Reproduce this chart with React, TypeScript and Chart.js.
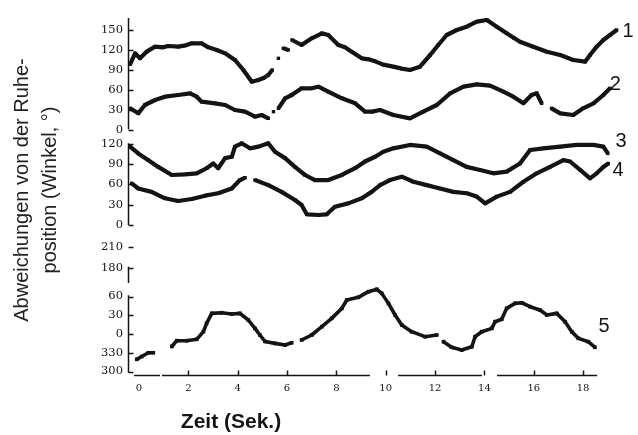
import React, { useEffect, useRef } from 'react';
import { Chart, registerables } from 'chart.js';

Chart.register(...registerables);

const INK = '#141414';

// Time in seconds
const S1_T = [-0.36, -0.16, 0.04, 0.31, 0.65, 0.95, 1.19, 1.59, 1.9, 2.14, 2.54, 2.81, 3.15, 3.49, 3.89, 4.23, 4.57, 4.84, 5.05, 5.24, 5.4, 5.5, 5.65, 5.75, 5.85, 6.05, 6.12, 6.2, 6.59, 7.0, 7.41, 7.67, 8.08, 8.35, 8.62, 9.03, 9.3, 9.57, 9.9, 10.31, 10.65, 10.98, 11.39, 11.8, 12.13, 12.47, 12.88, 13.28, 13.69, 14.1, 14.5, 14.9, 15.2, 15.44, 15.98, 16.53, 17.07, 17.6, 18.08, 18.28, 18.55, 18.82, 19.09, 19.36];
const S1_V = [98.5, 115, 107.5, 117.5, 125, 124, 126, 125, 127, 130, 130, 124, 120, 115, 105, 90, 72.5, 75, 78, 82.5, 90, null, 107.5, null, 122.5, 120, null, 135, 127.5, 137.5, 145, 142.5, 127.5, 124, 117.5, 107.5, 106, 103, 98, 95, 92, 90, 95, 112.5, 127.5, 142.5, 150, 155, 162.5, 165, 155, 145, 138, 132.5, 125, 117.5, 112.5, 105, 102.5, 112.5, 125, 135, 142.5, 150];

const S2_T = [-0.36, -0.03, 0.24, 0.65, 1.05, 1.59, 2.07, 2.34, 2.54, 3.08, 3.49, 3.89, 4.3, 4.7, 4.97, 5.24, 5.35, 5.45, 5.55, 5.65, 5.92, 6.19, 6.59, 7.0, 7.27, 7.67, 8.22, 8.76, 9.16, 9.45, 9.77, 10.31, 10.98, 11.52, 12.07, 12.61, 13.15, 13.69, 14.23, 14.77, 15.17, 15.58, 15.91, 16.12, 16.32, 16.5, 16.72, 17.07, 17.6, 18.0, 18.42, 18.82, 19.09];
const S2_V = [32.5, 25, 37.5, 45, 50, 52.5, 55, 50, 42.5, 40, 37.5, 30, 27.5, 20, 22.5, 17.5, null, 27.5, null, 32.5, 47.5, 52.5, 62.5, 62.5, 65, 57.5, 47.5, 40, 27.5, 27.5, 30, 22.5, 17.5, 27.5, 37.5, 55, 65, 68.5, 66.5, 57.5, 50, 40, 52.5, 55, 40, null, 32.5, 25, 22.5, 32.5, 40, 52.5, 62.5];

const S3_T = [-0.36, -0.03, 0.38, 0.78, 1.33, 1.87, 2.34, 2.74, 3.01, 3.21, 3.49, 3.76, 3.89, 4.16, 4.5, 4.84, 5.24, 5.51, 5.92, 6.32, 6.73, 7.13, 7.67, 8.22, 8.76, 9.16, 9.57, 9.9, 10.31, 10.98, 11.66, 12.2, 12.74, 13.28, 13.82, 14.36, 14.9, 15.44, 15.85, 16.39, 17.07, 17.74, 18.42, 18.82, 19.0];
const S3_V = [116, 106, 96, 86, 74, 75, 76.5, 84, 91, 84, 99, 101, 116, 121, 113.5, 116, 121, 108.5, 99, 86, 74, 66.5, 66.5, 74, 84, 94, 101, 108.5, 113.5, 118.5, 116, 106, 96, 86, 81.5, 76.5, 79, 91, 111, 113.5, 116, 118.5, 118.5, 116, 106];

const S4_T = [-0.3, -0.03, 0.51, 1.05, 1.59, 2.14, 2.68, 3.21, 3.76, 4.09, 4.3, 4.45, 4.7, 5.24, 5.78, 6.32, 6.59, 6.8, 7.27, 7.61, 7.94, 8.48, 9.03, 9.43, 9.77, 10.17, 10.65, 11.12, 11.66, 12.2, 12.74, 13.28, 13.69, 14.03, 14.5, 15.04, 15.58, 16.12, 16.66, 17.2, 17.47, 17.88, 18.28, 18.55, 18.82, 19.02];
const S4_V = [61.7, 54, 49, 39.5, 35.5, 38.5, 43.4, 47, 54, 66.5, 70, null, 66.5, 59, 49, 37, 29.6, 15.8, 14.8, 15.8, 27, 32, 39.5, 49, 59, 66.5, 71.5, 64, 59, 54, 49, 47, 42, 32, 42, 49, 64, 76.5, 86, 96, 94, 81.5, 69, 76.5, 86, 91];

// Series 5 in degrees, unwrapped around 0 (e.g. -30 = 330°)
const S5_T = [-0.09, 0.11, 0.38, 0.58, 0.9, 1.33, 1.53, 1.93, 2.34, 2.61, 2.74, 2.95, 3.35, 3.76, 4.09, 4.43, 4.7, 4.9, 5.11, 5.51, 5.92, 6.19, 6.4, 6.59, 7.0, 7.41, 7.81, 8.22, 8.42, 8.89, 9.3, 9.64, 9.84, 10.11, 10.38, 10.65, 11.05, 11.59, 12.07, 12.2, 12.34, 12.67, 13.08, 13.49, 13.62, 13.89, 14.3, 14.43, 14.7, 14.9, 15.24, 15.51, 15.85, 16.25, 16.53, 16.93, 17.27, 17.54, 17.81, 18.21, 18.48];
const S5_V = [-40.5, -36, -30, -30, null, -20, -10.7, -10.7, -8.5, 3.7, 17, 33, 34, 32, 33, 22.4, 9, -1.6, -12, -15, -17.6, -14, null, -9.6, -1.6, 11.7, 25, 41, 54.4, 58.7, 67.7, 71.5, 65, 49, 30.4, 14.4, 3.7, -4.3, -1.6, null, -12.3, -21.3, -25.6, -20.3, -4.3, 3.7, 9, 19.7, 23.5, 41, 49, 50, 43.7, 38.4, 30.4, 33, 19.7, 3.7, -7, -12.3, -21.3];

const SERIES_LABELS = ['1', '2', '3', '4', '5'];
const LABEL_T = [19.82, 19.3, 19.54, 19.42, 18.85];
const LABEL_V = [148.5, 69, 124, 81.4, 12.8];
const LABEL_AXIS = ['yT', 'yT', 'yM', 'yM', 'yB'];

const X_TICK_STEP = 2;
const Y_TICK_STEP = 30;
const X_AXIS_SEGMENTS = [[-0.2, 0.85], [0.93, 9.36], [10.5, 13.9], [14.51, 18.57]];
const Y_AXIS_LINES: Record<string, number[]> = { yT: [1, 168], yM: [0, 121], yBU: [158.6, 182], yB: [-62, 62] };

const Y_TITLE_1 = 'Abweichungen von der Ruhe-';
const Y_TITLE_2 = 'position (Winkel, °)';
const X_TITLE = 'Zeit (Sek.)';

const pts = (ts: number[], vs: (number | null)[]) => ts.map((t, i) => ({ x: t, y: vs[i] }));

const decor = {
  id: 'decor',
  afterDraw(chart: any) {
    const { ctx, chartArea: area, scales } = chart;
    const xs = scales.x;
    ctx.save();
    ctx.strokeStyle = INK;
    ctx.lineWidth = 1.5;
    const ax = area.left - 0.5;
    Object.keys(Y_AXIS_LINES).forEach((id) => {
      const s = scales[id];
      const [a, b] = Y_AXIS_LINES[id];
      ctx.beginPath();
      ctx.moveTo(ax, s.getPixelForValue(a));
      ctx.lineTo(ax, s.getPixelForValue(b));
      ctx.stroke();
      s.ticks.forEach((t: any) => {
        const y = Math.round(s.getPixelForValue(t.value)) + 0.5;
        ctx.beginPath();
        ctx.moveTo(ax, y);
        ctx.lineTo(ax + 5, y);
        ctx.stroke();
      });
    });
    const by = area.bottom - 0.5;
    X_AXIS_SEGMENTS.forEach(([a, b]) => {
      ctx.beginPath();
      ctx.moveTo(xs.getPixelForValue(a), by);
      ctx.lineTo(xs.getPixelForValue(b), by);
      ctx.stroke();
    });
    xs.ticks.forEach((t: any) => {
      if (t.value === 0) return;
      const x = Math.round(xs.getPixelForValue(t.value)) + 0.5;
      ctx.beginPath();
      ctx.moveTo(x, by);
      ctx.lineTo(x, by - 5);
      ctx.stroke();
    });

    ctx.fillStyle = INK;
    ctx.textAlign = 'center';
    ctx.textBaseline = 'middle';
    ctx.font = '20px "Liberation Sans", Arial, sans-serif';
    SERIES_LABELS.forEach((lab, i) => {
      const s = scales[LABEL_AXIS[i]];
      ctx.fillText(lab, xs.getPixelForValue(LABEL_T[i]), s.getPixelForValue(LABEL_V[i]));
    });

    ctx.fillStyle = '#222';
    ctx.font = '20px "Liberation Sans", Arial, sans-serif';
    ctx.save();
    ctx.translate(22, 190);
    ctx.rotate(-Math.PI / 2);
    ctx.fillText(Y_TITLE_1, 0, 0);
    ctx.restore();
    ctx.save();
    ctx.translate(50, 190);
    ctx.rotate(-Math.PI / 2);
    ctx.fillText(Y_TITLE_2, 0, 0);
    ctx.restore();

    ctx.fillStyle = INK;
    ctx.font = 'bold 21px "Liberation Sans", Arial, sans-serif';
    ctx.fillText(X_TITLE, 231, 422);
    ctx.restore();
  },
};

const yCommon = (fmt?: (v: number) => string) => ({
  type: 'linear' as const,
  position: 'left' as const,
  stack: 'panels',
  grid: { display: false, drawTicks: false },
  border: { display: false },
  ticks: {
    stepSize: Y_TICK_STEP,
    includeBounds: false,
    autoSkip: false,
    padding: 6,
    color: INK,
    font: { family: '"DejaVu Serif", serif', size: 11.5 },
    callback: (v: any) => (fmt ? fmt(Number(v)) : String(v)),
  },
  afterFit: (s: any) => {
    s.width = 129;
  },
});

export default function App() {
  const ref = useRef<HTMLCanvasElement>(null);
  useEffect(() => {
    const mk = (ts: number[], vs: (number | null)[], axis: string, bw: number, pr: number) => ({
      data: pts(ts, vs),
      yAxisID: axis,
      borderColor: INK,
      backgroundColor: INK,
      borderWidth: bw,
      pointRadius: pr,
      pointStyle: 'rect',
      pointBorderWidth: 0,
      tension: 0,
      spanGaps: false,
      borderJoinStyle: 'round',
    });
    const chart = new Chart(ref.current!, {
      type: 'line',
      data: {
        datasets: [
          mk(S1_T, S1_V, 'yT', 4.2, 2.4),
          mk(S2_T, S2_V, 'yT', 4.2, 2.4),
          mk(S3_T, S3_V, 'yM', 4.2, 2.4),
          mk(S4_T, S4_V, 'yM', 4.2, 2.4),
          mk(S5_T, S5_V, 'yB', 3.6, 2.6),
        ] as any,
      },
      options: {
        responsive: false,
        animation: false,
        layout: { padding: { top: 15, right: 8, left: 0, bottom: 0 } },
        plugins: { legend: { display: false }, tooltip: { enabled: false } },
        scales: {
          x: {
            type: 'linear',
            position: 'bottom',
            min: -0.405,
            max: 19.9,
            grid: { display: false, drawTicks: false },
            border: { display: false },
            ticks: {
              stepSize: X_TICK_STEP,
              includeBounds: false,
              autoSkip: false,
              padding: 6,
              color: INK,
              maxRotation: 0,
              font: { family: '"DejaVu Serif", serif', size: 10 },
            },
            afterFit: (s: any) => {
              s.height = 59;
            },
          },
          yT: { ...yCommon(), stackWeight: 119, weight: 4, min: -6, max: 172.5 },
          yM: { ...yCommon(), stackWeight: 103, weight: 3, min: -17.8, max: 134.7 },
          yBU: { ...yCommon(), stackWeight: 46, weight: 2, min: 158.6, max: 224.3 },
          yB: {
            ...yCommon((v) => String(((v % 360) + 360) % 360)),
            stackWeight: 93,
            weight: 1,
            min: -67.2,
            max: 81.6,
          },
        } as any,
      },
      plugins: [decor],
    });
    return () => chart.destroy();
  }, []);
  return (
    <div style={{ position: 'absolute', left: 0, top: 0, width: 638, height: 435, background: '#fff' }}>
      <canvas ref={ref} width={638} height={435} style={{ display: 'block' }} />
    </div>
  );
}
